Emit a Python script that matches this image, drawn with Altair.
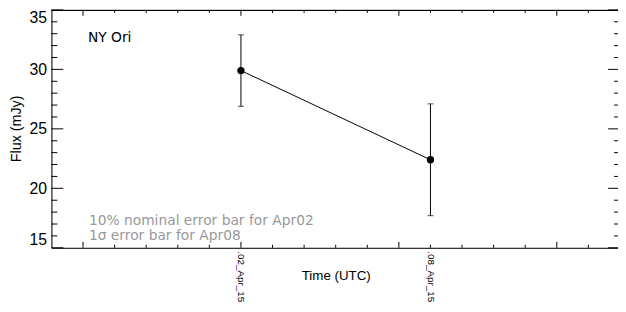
import altair as alt
import pandas as pd

# ---- data ----
days = [0, 6]                      # days after 2015-04-02
flux = [29.9, 22.4]                # mJy
err = [3.0, 4.7]                   # error half-length (mJy)
x_tick_values = [0, 6]
x_tick_labels = [".02_Apr_15", ".08_Apr_15"]
y_label_values = [15, 20, 25, 30, 35]
y_minor_values = [16, 17, 18, 19, 21, 22, 23, 24, 26, 27, 28, 29, 31, 32, 33, 34]
x_major_values = [-5, 0, 5, 10]
x_minor_values = [-4, -3, -2, -1, 1, 2, 3, 4, 6, 7, 8, 9, 11]
target_name = "NY Ori"
note_lines = ["10% nominal error bar for Apr02", "1\u03c3 error bar for Apr08"]

W, H = 574, 241
FONT = "Liberation Sans"
FONT2 = "DejaVu Sans"

df = pd.DataFrame({"day": days, "flux": flux, "err": err})
xs = alt.Scale(domain=[-6, 11.9375], nice=False, zero=False)
ys = alt.Scale(domain=[15, 35], nice=False, zero=False)

label_expr = " : ".join(
    [f"datum.value == {v} ? '{t}'" for v, t in zip(x_tick_values, x_tick_labels)] + ["''"]
)

X_AX = alt.Axis(
    values=x_tick_values, labelExpr=label_expr, ticks=False, grid=False,
    domain=True, domainColor="black", domainWidth=1,
    labelAngle=90, labelAlign="left", labelBaseline="middle",
    labelPadding=3, labelFontSize=10, labelColor="black", labelFont=FONT,
    labelOverlap=False, labelLimit=0,
    title="Time (UTC)", titleX=288, titleY=28, titleBaseline="middle",
    titleAlign="center", titleFontSize=13.5, titleFontWeight="normal",
    titleFont=FONT, titleColor="black")
Y_AX = alt.Axis(
    values=y_label_values, ticks=False, grid=False,
    domain=True, domainColor="black", domainWidth=1,
    labelPadding=5, labelFontSize=16, labelColor="black", labelFont=FONT,
    labelOverlap=False, labelFlush=True,
    title="Flux (mJy)", titleX=-35, titleY=120, titleAngle=-90,
    titleAlign="center", titleBaseline="middle", titleFontSize=14.5,
    titleFontWeight="normal", titleFont=FONT, titleColor="black")

def X(f):
    return alt.X(f, scale=xs, axis=X_AX, title="Time (UTC)")

def Y(f):
    return alt.Y(f, scale=ys, axis=Y_AX, title="Flux (mJy)")

base = alt.Chart(df).transform_calculate(
    lo="datum.flux - datum.err", hi="datum.flux + datum.err"
)

line = base.mark_line(color="black", strokeWidth=1).encode(x=X("day:Q"), y=Y("flux:Q"))
bars = base.mark_rule(color="black", strokeWidth=1).encode(
    x=X("day:Q"), y=Y("lo:Q"), y2="hi:Q")
cap_lo = base.mark_tick(color="black", orient="horizontal", size=6, thickness=1).encode(
    x=X("day:Q"), y=Y("lo:Q"))
cap_hi = base.mark_tick(color="black", orient="horizontal", size=6, thickness=1).encode(
    x=X("day:Q"), y=Y("hi:Q"))
pts = base.mark_point(filled=True, color="black", size=55, opacity=1).encode(
    x=X("day:Q"), y=Y("flux:Q"))

# ---- inward ticks (IDL style) ----
ymaj = pd.DataFrame({"v": y_label_values})
ymin = pd.DataFrame({"v": y_minor_values})
xmaj = pd.DataFrame({"v": x_major_values})
xmin = pd.DataFrame({"v": x_minor_values})

def yticks(d, x1, x2):
    return alt.Chart(d).mark_rule(color="black", strokeWidth=1).encode(
        y=Y("v:Q"), x=alt.value(x1), x2=alt.value(x2))

def xticks(d, y1, y2):
    return alt.Chart(d).mark_rule(color="black", strokeWidth=1).encode(
        x=X("v:Q"), y=alt.value(y1), y2=alt.value(y2))

ticks = [
    yticks(ymaj, 0, 12), yticks(ymin, 0, 6),
    yticks(ymaj, W - 10, W), yticks(ymin, W - 4, W),
    xticks(xmaj, H, H - 6), xticks(xmin, H, H - 3),
    xticks(xmaj, 0, 6), xticks(xmin, 0, 3),
]

top_line = alt.Chart(df).mark_rule(color="black", strokeWidth=1).encode(
    x=alt.value(0), x2=alt.value(W), y=alt.value(0.5))

name_txt = alt.Chart(pd.DataFrame({"t": [target_name]})).mark_text(
    align="left", baseline="middle", fontSize=14, font=FONT2, color="black"
).encode(text="t:N", x=alt.value(37), y=alt.value(28))

def note(t, ypix):
    return alt.Chart(pd.DataFrame({"t": [t]})).mark_text(
        align="left", baseline="middle", fontSize=14, font=FONT2, color="#999999"
    ).encode(text="t:N", x=alt.value(38), y=alt.value(ypix))

note1 = note(note_lines[0], 214)
note2 = note(note_lines[1], 229)

chart = alt.layer(
    line, top_line, *ticks, bars, cap_lo, cap_hi, pts, name_txt, note1, note2
).properties(
    width=W, height=H,
    autosize=alt.AutoSizeParams(type="none"),
    padding={"left": 44, "top": 0, "right": 0, "bottom": 55},
).configure_view(stroke=None).configure(background="white")

chart.save("out.html", embed_options={"renderer": "svg", "actions": False})
